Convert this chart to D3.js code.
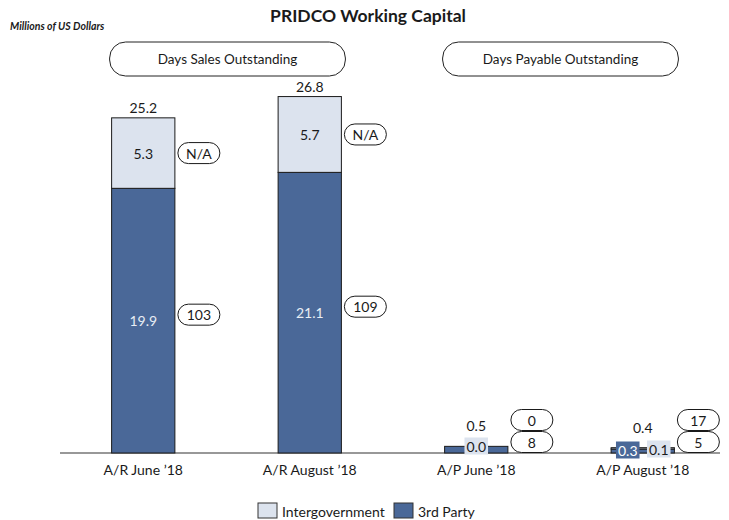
<!DOCTYPE html>
<html>
<head>
<meta charset="utf-8">
<script src="https://cdn.jsdelivr.net/npm/d3@7"></script>
<style>
body { margin: 0; background: #fff; }
text { font-family: Lato, "Open Sans", sans-serif; fill: #1a1a1a; }
</style>
</head>
<body>
<div id="chart"></div>
<script>
var categories = ["A/R June \u201918", "A/R August \u201918", "A/P June \u201918", "A/P August \u201918"];
var thirdParty = [19.9, 21.1, 0.5, 0.3];
var intergov = [5.3, 5.7, 0.0, 0.1];
var totals = [25.2, 26.8, 0.5, 0.4];
var daysThirdParty = ["103", "109", "8", "5"];
var daysIntergov = ["N/A", "N/A", "0", "17"];
var groups = ["Days Sales Outstanding", "Days Payable Outstanding"];
var legendNames = ["Intergovernment", "3rd Party"];

var colDark = "#4a6898", colLight = "#dce3ee";

var width = 729, height = 520;
var svg = d3.select("#chart").append("svg")
	.attr("width", width)
	.attr("height", height);

var x = d3.scaleBand().domain(categories).range([60, 726]).padding(0);
var barW = x.bandwidth() * 0.38;
var y = d3.scaleLinear().domain([0, 30]).range([453, 54]);

function cx(i) { return x(categories[i]) + x.bandwidth() / 2; }

// title
svg.append("text")
	.attr("x", 368).attr("y", 22)
	.attr("text-anchor", "middle")
	.style("font-weight", "bold")
	.style("font-size", "17.5px")
	.text("PRIDCO Working Capital");

svg.append("text")
	.attr("x", 10).attr("y", 30)
	.style("font-weight", "bold")
	.style("font-style", "italic")
	.style("font-size", "10.5px")
	.text("Millions of US Dollars");

// group headers
groups.forEach(function(g, k) {
	var x0 = cx(k * 2) - barW / 2 - 2, x1 = cx(k * 2 + 1) + barW / 2 + 4;
	svg.append("rect")
		.attr("x", x0).attr("y", 42)
		.attr("width", x1 - x0).attr("height", 34)
		.attr("rx", 16)
		.attr("fill", "#fff")
		.attr("stroke", "#222");
	svg.append("text")
		.attr("x", (x0 + x1) / 2).attr("y", 59)
		.attr("text-anchor", "middle")
		.attr("dominant-baseline", "central")
		.style("font-size", "13.5px")
		.text(g);
});

// baseline
svg.append("line")
	.attr("x1", 60).attr("x2", 720)
	.attr("y1", y(0)).attr("y2", y(0))
	.attr("stroke", "#333").attr("stroke-width", 1.2);

var bars = svg.selectAll("g.bar")
	.data(categories)
	.enter().append("g").attr("class", "bar");

bars.append("rect")
	.attr("x", function(d, i) { return cx(i) - barW / 2; })
	.attr("y", function(d, i) { return y(thirdParty[i]); })
	.attr("width", barW)
	.attr("height", function(d, i) { return y(0) - y(thirdParty[i]); })
	.attr("fill", colDark)
	.attr("stroke", "#1a1a1a");

bars.append("rect")
	.attr("x", function(d, i) { return cx(i) - barW / 2; })
	.attr("y", function(d, i) { return y(thirdParty[i] + intergov[i]); })
	.attr("width", barW)
	.attr("height", function(d, i) { return y(thirdParty[i]) - y(thirdParty[i] + intergov[i]); })
	.attr("fill", colLight)
	.attr("stroke", "#1a1a1a")
	.attr("stroke-opacity", function(d, i) { return intergov[i] > 0 ? 1 : 0; });

// totals
bars.append("text")
	.attr("x", function(d, i) { return cx(i); })
	.attr("y", function(d, i) { return y(totals[i]) - 5 - (y(0) - y(totals[i]) < 20 ? 10 : 0); })
	.attr("text-anchor", "middle")
	.style("font-size", "14px")
	.text(function(d, i) { return totals[i].toFixed(1); });

function boxLabel(px, py, val, dark) {
	var t = svg.append("text")
		.attr("x", px).attr("y", py)
		.attr("text-anchor", "middle")
		.attr("dominant-baseline", "central")
		.style("font-size", "14px")
		.style("fill", dark ? "#fff" : "#1a1a1a")
		.text(val.toFixed(1));
	var b = t.node().getBBox();
	svg.insert("rect", function() { return t.node(); })
		.attr("x", b.x - 2).attr("y", b.y)
		.attr("width", b.width + 4).attr("height", b.height)
		.attr("fill", dark ? colDark : colLight);
}

function pill(px, py, txt) {
	svg.append("rect")
		.attr("x", px).attr("y", py - 10.5)
		.attr("width", 42).attr("height", 21)
		.attr("rx", 10.5)
		.attr("fill", "#fff").attr("stroke", "#1a1a1a");
	svg.append("text")
		.attr("x", px + 21).attr("y", py)
		.attr("text-anchor", "middle")
		.attr("dominant-baseline", "central")
		.style("font-size", "14px")
		.text(txt);
}

categories.forEach(function(c, i) {
	var big = y(0) - y(thirdParty[i]) > 30;
	var px = cx(i) + barW / 2 + 3;
	if (big) {
		svg.append("text")
			.attr("x", cx(i)).attr("y", (y(0) + y(thirdParty[i])) / 2)
			.attr("text-anchor", "middle")
			.attr("dominant-baseline", "central")
			.style("font-size", "14px")
			.style("fill", "#e8edf4")
			.text(thirdParty[i].toFixed(1));
		svg.append("text")
			.attr("x", cx(i)).attr("y", (y(thirdParty[i]) + y(thirdParty[i] + intergov[i])) / 2)
			.attr("text-anchor", "middle")
			.attr("dominant-baseline", "central")
			.style("font-size", "14px")
			.text(intergov[i].toFixed(1));
		pill(px, Math.min((y(0) + y(thirdParty[i])) / 2 - 6, y(0) - 11), daysThirdParty[i]);
		pill(px, (y(thirdParty[i]) + y(thirdParty[i] + intergov[i])) / 2, daysIntergov[i]);
	} else {
		if (intergov[i] > 0) {
			boxLabel(cx(i) - 15, y(0) - 3, thirdParty[i], true);
			boxLabel(cx(i) + 16, y(0) - 4, intergov[i], false);
		} else {
			boxLabel(cx(i), y(0) - 7, intergov[i], false);
		}
		pill(px, y(0) - 11, daysThirdParty[i]);
		pill(px, y(0) - 33, daysIntergov[i]);
	}
});

// x labels
svg.selectAll("text.xlab")
	.data(categories)
	.enter().append("text")
	.attr("class", "xlab")
	.attr("x", function(d, i) { return cx(i); })
	.attr("y", 475)
	.attr("text-anchor", "middle")
	.style("font-size", "14px")
	.text(function(d) { return d; });

// legend
var legend = svg.selectAll("g.leg")
	.data(legendNames)
	.enter().append("g").attr("class", "leg")
	.attr("transform", function(d, i) { return "translate(" + (258 + i * 136) + ",503)"; });
legend.append("rect")
	.attr("width", 19).attr("height", 15)
	.attr("fill", function(d, i) { return i == 0 ? colLight : colDark; })
	.attr("stroke", "#333");
legend.append("text")
	.attr("x", 24).attr("y", 8)
	.attr("dominant-baseline", "central")
	.style("font-size", "14px")
	.text(function(d) { return d; });
</script>
</body>
</html>
